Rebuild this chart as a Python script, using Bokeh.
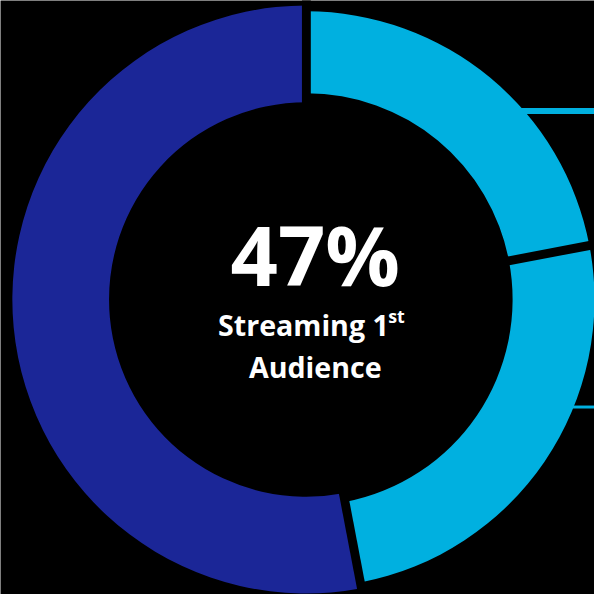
from bokeh.plotting import figure
from bokeh.models import Range1d
from bokeh.embed import file_html
from bokeh.resources import INLINE
from bokeh.core.properties import value
import numpy as np

# data
segments = ["Streaming 1st A", "Streaming 1st B", "Other"]
shares = [22, 25, 53]
colors = ["#00B0E0", "#00B0E0", "#1B2697"]
outer_r = [292, 292, 298]
inner_r = [209, 209, 200]
headline = "47%"
sub1 = "Streaming 1"
sup = "st"
sub2 = "Audience"
leader_y = [112, 412]
leader_w = [6, 3]

REF = 602          # reference canvas in data units
PX = 594           # figure size in px
s = PX / REF
cx, cy = 310, REF - 303

p = figure(width=PX, height=PX, output_backend="svg", toolbar_location=None,
           x_range=Range1d(0, REF), y_range=Range1d(0, REF),
           min_border=0, background_fill_color="black", border_fill_color="black",
           outline_line_color=None)
p.axis.visible = False
p.grid.visible = False
p.styles = {"margin-bottom": "-8px", "margin-right": "-8px"}

tot = sum(shares)
cum = np.cumsum([0] + shares) / tot
starts = [np.pi / 2 - 2 * np.pi * cum[i] for i in range(len(shares))]
ends = [np.pi / 2 - 2 * np.pi * cum[i + 1] for i in range(len(shares))]

# leader lines (drawn under slices)
for yy, lw in zip(leader_y, leader_w):
    ydata = REF - yy
    dy = ydata - cy
    x0 = cx + np.sqrt(max(outer_r[0] ** 2 - dy ** 2, 0)) - 5
    p.segment(x0=[x0], y0=[ydata], x1=[REF + 5], y1=[ydata], line_color=colors[0], line_width=lw * s)

p.annular_wedge(x=[cx] * 3, y=[cy] * 3, inner_radius=inner_r, outer_radius=outer_r,
                start_angle=starts, end_angle=ends, direction="clock",
                fill_color=colors, line_color=None)

# separators
sep_angles = [np.pi / 2 - 2 * np.pi * c for c in cum[:-1]]
for a in sep_angles:
    p.segment(x0=[cx + 150 * np.cos(a)], y0=[cy + 150 * np.sin(a)],
              x1=[cx + 320 * np.cos(a)], y1=[cy + 320 * np.sin(a)],
              line_color="black", line_width=9 * s)

font = value("Open Sans")
def fs(v):
    return f"{v * s:.1f}px"

p.text(x=[cx + 9], y=[REF - 256], text=[headline], text_font=font, text_font_size=fs(84),
       text_font_style="bold", text_color="white", text_align="center", text_baseline="middle")
p.text(x=[cx - 3], y=[REF - 328], text=[sub1], text_font=font, text_font_size=fs(29),
       text_font_style="bold", text_color="white", text_align="center", text_baseline="middle")
p.text(x=[cx + 83], y=[REF - 320], text=[sup], text_font=font, text_font_size=fs(18),
       text_font_style="bold", text_color="white", text_align="left", text_baseline="middle")
p.text(x=[cx + 9], y=[REF - 371], text=[sub2], text_font=font, text_font_size=fs(29),
       text_font_style="bold", text_color="white", text_align="center", text_baseline="middle")

html = file_html(p, INLINE)
html = html.replace("<body>", '<body style="background-color:#000000;">', 1)
open("out.html", "w").write(html)
